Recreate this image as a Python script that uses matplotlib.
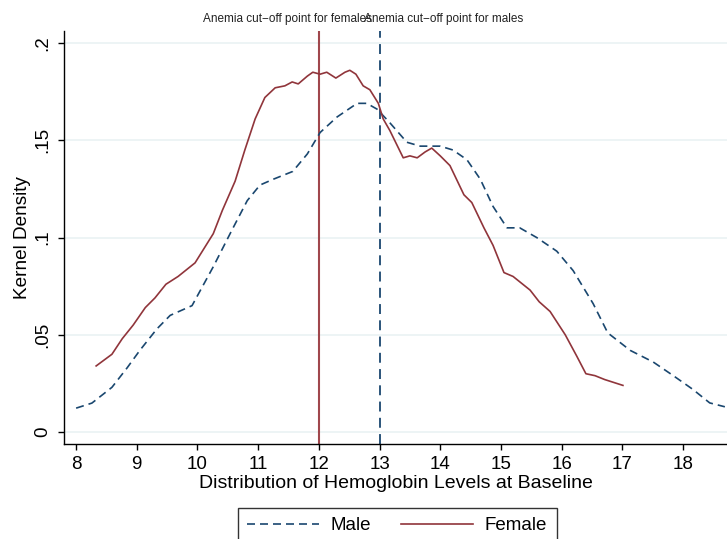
import matplotlib
matplotlib.use("Agg")
import matplotlib.pyplot as plt
from matplotlib.lines import Line2D

plt.rcParams['font.family'] = ['Liberation Sans', 'DejaVu Sans']

# Female kernel density (hemoglobin g/dL, density)
female_x = [8.33, 8.59, 8.76, 8.94, 9.14, 9.30, 9.48, 9.68, 9.88, 9.96, 10.14, 10.26, 10.41,
            10.62, 10.78, 10.95, 11.11, 11.28, 11.44, 11.56, 11.66, 11.81, 11.90, 12.02, 12.13,
            12.28, 12.43, 12.51, 12.61, 12.73, 12.84, 12.98, 13.06, 13.17, 13.39, 13.50, 13.62,
            13.75, 13.86, 14.00, 14.16, 14.39, 14.52, 14.72, 14.87, 15.05, 15.20, 15.48, 15.63,
            15.81, 16.06, 16.25, 16.40, 16.55, 16.71, 17.01]
female_y = [0.034, 0.040, 0.048, 0.055, 0.064, 0.069, 0.076, 0.080, 0.085, 0.087, 0.096, 0.102, 0.114,
            0.129, 0.145, 0.161, 0.172, 0.177, 0.178, 0.180, 0.179, 0.183, 0.185, 0.184, 0.185,
            0.182, 0.185, 0.186, 0.184, 0.178, 0.176, 0.169, 0.161, 0.155, 0.141, 0.142, 0.141,
            0.144, 0.146, 0.142, 0.137, 0.122, 0.118, 0.105, 0.096, 0.082, 0.080, 0.073, 0.067,
            0.062, 0.050, 0.039, 0.030, 0.029, 0.027, 0.024]

# Male kernel density
male_x = [8.00, 8.26, 8.59, 8.84, 9.05, 9.33, 9.55, 9.91, 10.26, 10.57, 10.82, 11.03, 11.25,
          11.57, 11.81, 12.02, 12.30, 12.63, 12.79, 12.96, 13.17, 13.45, 13.67, 14.00, 14.21,
          14.44, 14.66, 14.87, 15.10, 15.31, 15.59, 15.92, 16.19, 16.52, 16.76, 17.13, 17.51,
          17.84, 18.16, 18.44, 18.69]
male_y = [0.0123, 0.0149, 0.023, 0.033, 0.042, 0.053, 0.060, 0.065, 0.085, 0.104, 0.119, 0.127, 0.130,
          0.134, 0.143, 0.154, 0.162, 0.169, 0.169, 0.166, 0.159, 0.149, 0.147, 0.147, 0.145,
          0.140, 0.130, 0.116, 0.105, 0.105, 0.100, 0.093, 0.083, 0.066, 0.051, 0.042, 0.036,
          0.029, 0.022, 0.015, 0.013]

cutoff_female = 12
cutoff_male = 13
x_ticks = list(range(8, 19))
y_ticks = [0, 0.05, 0.10, 0.15, 0.20]
y_tick_labels = ["0", ".05", ".1", ".15", ".2"]

navy = "#1a476f"
maroon = "#90353b"

fig = plt.figure(figsize=(7.27, 5.39), dpi=100)
ax = fig.add_axes([0.088, 0.176, 0.912, 0.7665])

for yt in y_ticks:
    ax.axhline(yt, color="#eaf2f3", lw=1.2, zorder=0)

ax.plot(male_x, male_y, color=navy, lw=1.2, linestyle=(0, (4.8, 3.0)), zorder=3)
ax.plot(female_x, female_y, color=maroon, lw=1.2, linestyle="-", zorder=3)

ax.axvline(cutoff_female, color="#a0474c", lw=1.5, zorder=2)
ax.axvline(cutoff_male, color=navy, lw=1.3, linestyle=(0, (5.5, 3.5)), zorder=2)

ax.text(11.48, 0.2125, "Anemia cut\u2212off point for females", ha="center", va="center",
        fontsize=8.5, color="#222222", clip_on=False)
ax.text(14.05, 0.2125, "Anemia cut\u2212off point for males", ha="center", va="center",
        fontsize=8.5, color="#222222", clip_on=False)

ax.set_xlim(7.80, 18.725)
ax.set_ylim(-0.0062, 0.2062)
ax.set_xticks(x_ticks)
ax.set_xticklabels([str(v) for v in x_ticks], fontsize=13.5)
ax.set_yticks(y_ticks)
ax.set_yticklabels(y_tick_labels, fontsize=13.5, rotation=90, va="center")
ax.tick_params(axis="both", direction="out", length=4.3, width=1, color="black")
ax.tick_params(axis="x", pad=4)
ax.tick_params(axis="y", pad=5)

for s in ["top", "right"]:
    ax.spines[s].set_visible(False)
for s in ["left", "bottom"]:
    ax.spines[s].set_linewidth(1.0)

ax.set_xlabel("Distribution of Hemoglobin Levels at Baseline", fontsize=14, labelpad=2)
ax.set_ylabel("Kernel Density", fontsize=13.7, labelpad=2.5)

handles = [Line2D([], [], color=navy, lw=1.2, linestyle=(0, (4.8, 3.0))),
           Line2D([], [], color=maroon, lw=1.2)]
leg = fig.legend(handles, ["Male", "Female"], loc="upper left",
                 bbox_to_anchor=(238 / 727, 1 - 508 / 539), ncol=2, fontsize=13.5,
                 frameon=True, fancybox=False, edgecolor="black", handlelength=3.8,
                 handletextpad=0.65, columnspacing=1.6, borderpad=0.5, borderaxespad=0)
leg.get_frame().set_linewidth(1.0)

fig.savefig("out.png", dpi=100)
